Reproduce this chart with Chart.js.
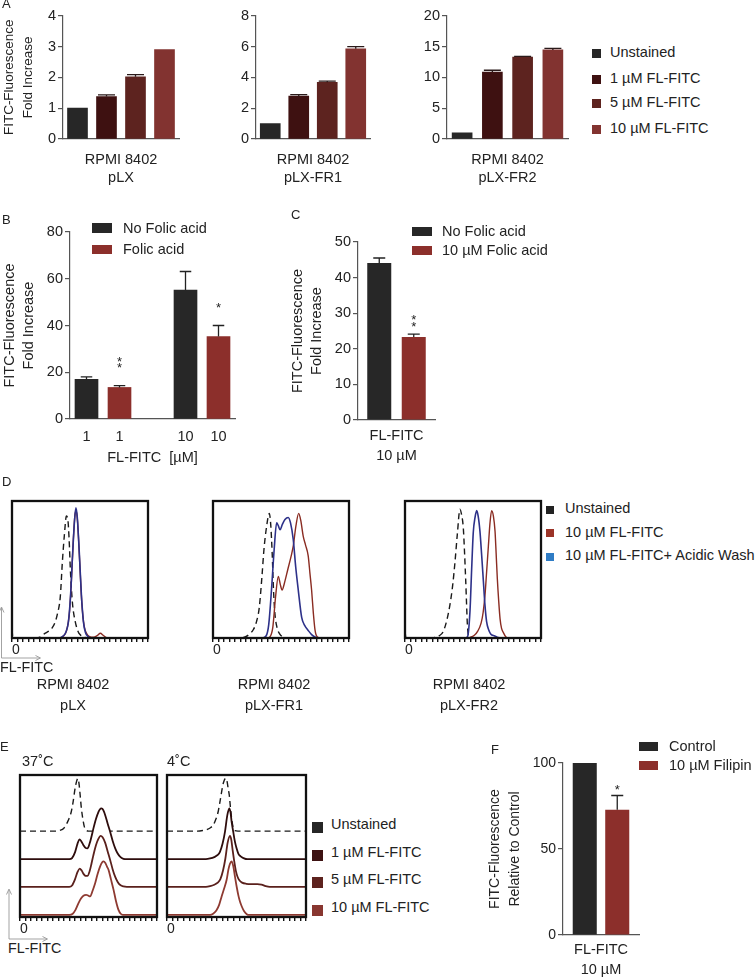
<!DOCTYPE html>
<html><head><meta charset="utf-8">
<script src="https://cdn.jsdelivr.net/npm/chart.js"></script>
<style>
html,body{margin:0;padding:0;background:#fff;}
#fig{position:relative;width:756px;height:978px;overflow:hidden;font-family:Arial,"Liberation Sans",Helvetica,sans-serif;color:#222;}
#fig canvas{position:absolute;}
.t{position:absolute;white-space:nowrap;}
.sw{position:absolute;}
</style></head><body><div id="fig">
<svg style="position:absolute;left:0;top:0" width="756" height="978">
 <g stroke="#999" stroke-width="0.9" fill="none">
  <path d="M1.5,658 V608 M-1,612.5 L1.5,607 L4,612.5 M1.5,658 H40 M35.5,655.5 L40.5,658 L35.5,660.5"/>
  <path d="M9,939 V890 M6.5,894.5 L9,889 L11.5,894.5 M9,939 H47 M42.5,936.5 L47.5,939 L42.5,941.5"/>
 </g>
</svg>
</div>
<script>
// ---------------- DATA ----------------
// Panel A
const conditionsA = ['Unstained', '1 µM FL-FITC', '5 µM FL-FITC', '10 µM FL-FITC'];
const foldA_pLX = [1.0, 1.38, 2.02, 2.9];
const errA_pLX  = [0, 0.05, 0.07, 0];
const foldA_FR1 = [1.0, 2.78, 3.68, 5.85];
const errA_FR1  = [0, 0.10, 0.08, 0.15];
const foldA_FR2 = [1.0, 10.85, 13.3, 14.45];
const errA_FR2  = [0, 0.30, 0.10, 0.25];
const cellA_pLX = ['RPMI 8402', 'pLX'];
const cellA_FR1 = ['RPMI 8402', 'pLX-FR1'];
const cellA_FR2 = ['RPMI 8402', 'pLX-FR2'];

// Panel B
const doseB = ['1', '1', '', '10', '10'];
const noFolicB    = [17.0, null, null, 55.2, null];
const noFolicErrB = [1.0, null, null, 7.9, null];
const folicB      = [null, 13.5, null, null, 35.3];
const folicErrB   = [null, 0.8, null, null, 4.7];
const sigB        = ['', '**', '', '', '*'];

// Panel C
const groupC = ['FL-FITC 10 µM'];
const noFolicC = [44.1];
const noFolicErrC = [1.4];
const folicC = [23.3];
const folicErrC = [0.8];
const sigC = ['**'];

// Panel F
const groupF = ['FL-FITC 10 µM'];
const controlF = [100];
const controlErrF = [0];
const filipinF = [72.8];
const filipinErrF = [8.3];
const sigF = ['*'];

// Panel D histograms: [channel (% of axis), count (% of box height)]
const dPLX_unstained = [[0,6],[0.7,0],[15,0],[20,0.5],[24.5,3.6],[27,5],[29.4,7.2],[31.5,11],[33.5,18],[35.5,30],[37,55],[38.5,75],[40,89],[41,87],[42,72],[43,48],[44.5,25],[46.5,12],[48.5,5],[50,2.5],[53,0.5],[56,0],[100,0]];
const dPLX_fitc = [[0,0],[35,0],[37.5,1],[40,5],[42,16],[43.5,38],[45,70],[46.3,90],[47.2,93],[48.2,85],[49.8,55],[51.3,26],[53,9],[55,3],[57,1],[60,0.5],[63,2],[65,3.5],[67,2],[69,0.5],[72,0],[100,0]];
const dPLX_wash = [[0,0],[34,0],[37,1],[39.5,4],[41.5,12],[43,30],[44.5,60],[46,86],[47,95],[48,88],[49.5,62],[51,32],[52.5,12],[54,4],[56,1],[58,0],[100,0]];

const dFR1_unstained = [[0,0],[20,0],[24,1],[27,3],[29.6,6],[32,12],[34,22],[36,45],[37.5,65],[39.5,82],[41.4,91],[42.5,82],[43.5,62],[44.5,35],[45.5,18],[47,8],[49,3],[52,0.5],[55,0],[100,0]];
const dFR1_fitc = [[0,0],[40,0],[42,1],[44,8],[46,30],[48,45],[49.5,39],[50.8,35],[52.5,40],[55,50],[57.5,60],[59,67],[61,82],[63,91],[64.5,86],[66.4,74],[68,68],[70,60],[71.3,47],[72.5,35],[73.8,18],[75,6],[76.5,1],[79,0],[100,0]];
const dFR1_wash = [[0,0],[36,0],[39,1.5],[41,10],[43,35],[45,65],[46.8,84],[48,82],[49.3,79],[51,83],[52.9,86.5],[55.3,88],[57,84],[59,72],[60.8,52],[62.7,35],[65.2,15],[67.5,9],[70,5.5],[72.5,2.5],[75,0.7],[78,0],[100,0]];

const dFR2_unstained = [[0,5],[0.7,0],[18,0],[22,0.5],[25,1.5],[28,4.5],[30.5,12],[33,24],[35,38],[36.8,56],[38.5,76],[40.4,94],[41.6,90],[42.9,80],[43.8,62],[44.6,43],[45.3,24],[45.8,11],[46.6,2],[48,0],[100,0]];
const dFR2_fitc = [[0,0],[45,0],[48,0.5],[51,2],[53.5,5],[56,11],[57.5,19],[58.8,31],[60,48],[61.3,67],[62.5,84],[63.7,93],[65,89],[66.2,78],[67,62],[67.9,43],[68.9,27],[69.9,14],[71,7],[72.3,4],[74,1],[76,0],[100,0]];
const dFR2_wash = [[0,0],[44,0],[46,1],[47.8,20],[49,50],[50.2,77],[51.5,88],[52.7,93],[53.8,89],[55.1,78],[56.4,60],[57.6,42],[58.8,24],[60,12],[61.5,6],[63,3],[66,1.5],[68.5,0.3],[71,0],[100,0]];

// Panel E histograms (heights relative to each trace's own baseline, % of box height)
const e37_unstained = [[0,0],[26,0],[29,0.5],[32,2],[35.3,7.7],[37,12],[38.5,19],[40.2,30],[41.3,35],[42.2,37],[43,34],[43.9,25.4],[44.8,16],[45.8,9],[47,3],[48.5,0.5],[50,0],[100,0]];
const e37_1uM = [[0,0],[36,0],[38,0.8],[40.2,5],[42,11],[43.4,13.9],[44.8,12.5],[46.3,9.9],[47.8,8],[49.2,7.6],[50.8,11],[52.2,16],[53.6,21.7],[55.5,28.5],[57.3,33.4],[58.4,35.2],[59.3,35.8],[60.2,35.4],[60.8,34.5],[62.2,31],[64,25],[65.8,19.3],[67.6,13],[69.5,7.6],[71.3,4],[73.2,1.6],[75.5,0.3],[78,0],[100,0]];
const e37_5uM = [[0,0],[36,0],[38,1],[40.2,5.5],[42,10.5],[43.6,12.9],[45,11.5],[46.5,9],[47.8,7.8],[49.2,7.7],[50.8,11],[52.2,16.5],[53.6,22.5],[55.5,29.5],[57.3,34],[58.8,36],[60.3,35],[62.2,31],[64,25],[65.8,19],[67.6,12.5],[69.5,7],[71.3,3.5],[73.2,1.3],[75.5,0.3],[78,0],[100,0]];
const e37_10uM = [[0,0],[36,0],[38.5,0.8],[40.5,3.5],[42.7,8.3],[44.5,11.5],[46.3,13.5],[48.3,14.1],[49.8,13.6],[51.2,13],[53,17],[54.9,22.4],[56.7,29],[58.5,34.2],[60,37],[61,37.7],[62.3,36.5],[63.5,34],[64.6,31.8],[66.4,25],[68.3,17.6],[70,10],[71.9,3.5],[73.5,0.8],[75,0],[100,0]];

const e4_unstained = [[0,0],[22,0],[26,0.5],[29,1.2],[31.5,2.5],[33.2,4.2],[35,8],[36.8,13.6],[38,20],[39.3,27.7],[40.6,34],[42.2,37.2],[43.2,35],[44,30],[44.8,25.4],[45.6,17],[46.5,8.9],[47.5,3],[48.9,0.3],[51,0],[100,0]];
const e4_1uM = [[0,0],[28,0],[31,0.5],[34,1.5],[36.5,3],[38.1,5.2],[40,11],[41.7,19.3],[43.4,31],[44.8,35.8],[45.7,33],[46.5,26.3],[47.7,19],[48.9,12.2],[50.1,7.5],[51.3,4],[53,2],[55,0.8],[58,0],[100,0]];
const e4_5uM = [[0,0],[28,0],[31,0.5],[34,1.5],[36.5,3],[38.4,5.5],[40.3,11.5],[42,20],[43.6,31],[45.3,36],[46.3,33],[47.2,26],[48.3,18.5],[49.5,11.5],[50.8,7],[52.2,4.5],[54,3],[57,2.2],[61,2],[65,2],[68,1.6],[71,0.5],[74,0],[100,0]];
const e4_10uM = [[0,0],[31,0],[33.2,0.8],[35.5,3],[37.5,7],[39.3,13],[41.1,18.5],[42.9,24.7],[44.2,32],[45.3,36],[46.5,37.7],[47.7,34.2],[48.9,27],[50.1,20],[51.5,13],[52.6,9],[53.8,5.9],[55.5,2.5],[57.4,0.5],[59,0],[100,0]];

// ---------------- STYLE ----------------
Chart.defaults.font.family = 'Arial, "Liberation Sans", Helvetica, sans-serif';
Chart.defaults.color = '#222';
const AX = '#555';
const DARK = '#272727';
const RED = '#8c2f2b';
const colorsA = ['#272727', '#3e1111', '#5d231f', '#823330'];
const fig = document.getElementById('fig');

function canvasAt(x, y, w, h) {
  const c = document.createElement('canvas');
  c.width = Math.round(w); c.height = Math.round(h);
  c.style.left = Math.round(x) + 'px'; c.style.top = Math.round(y) + 'px';
  c.style.width = c.width + 'px'; c.style.height = c.height + 'px';
  fig.appendChild(c);
  return c;
}
function text(s, x, yc, o) {
  o = o || {};
  const size = o.size || 14.5;
  const d = document.createElement('div');
  d.className = 't';
  d.style.fontSize = size + 'px';
  d.style.lineHeight = size + 'px';
  d.style.top = (yc - size / 2) + 'px';
  d.style.left = x + 'px';
  if (o.center) d.style.transform = 'translateX(-50%)';
  d.textContent = s;
  fig.appendChild(d);
}
function swatch(x, yc, w, h, color) {
  const d = document.createElement('div');
  d.className = 'sw';
  d.style.left = x + 'px'; d.style.top = (yc - h / 2) + 'px';
  d.style.width = w + 'px'; d.style.height = h + 'px';
  d.style.background = color;
  fig.appendChild(d);
}

const errPlugin = {
  id: 'errs',
  afterDatasetsDraw(chart, args, o) {
    const ctx = chart.ctx, ys = chart.scales.y;
    ctx.save();
    chart.data.datasets.forEach((ds, di) => {
      const meta = chart.getDatasetMeta(di);
      meta.data.forEach((bar, i) => {
        const v = ds.data[i];
        if (v === null || v === undefined) return;
        const e = (ds.errors && ds.errors[i]) || 0;
        const yTop = ys.getPixelForValue(v + e);
        if (e > 0) {
          const half = bar.width * o.cap / 2;
          ctx.strokeStyle = o.color; ctx.lineWidth = o.width;
          ctx.beginPath();
          ctx.moveTo(bar.x, bar.y); ctx.lineTo(bar.x, yTop);
          ctx.moveTo(bar.x - half, yTop); ctx.lineTo(bar.x + half, yTop);
          ctx.stroke();
        }
        const s = ds.stars && ds.stars[i];
        if (s) {
          ctx.fillStyle = '#222';
          ctx.font = o.starFont;
          ctx.textAlign = 'center';
          ctx.textBaseline = 'alphabetic';
          const m = ctx.measureText('*');
          const shift = (m.actualBoundingBoxAscent - m.actualBoundingBoxDescent) / 2;
          for (let k = 0; k < s.length; k++) {
            ctx.fillText('*', bar.x, yTop - o.starGap - k * o.starStep + shift);
          }
        }
      });
    });
    ctx.restore();
  }
};

function barChart(p) {
  const a = p.area;
  const pt = p.pt || 12, pr = p.pr || 4;
  const cv = canvasAt(a.l - p.yw, a.t - pt, a.r - a.l + p.yw + pr, a.b - a.t + pt + p.xh);
  const font = {size: p.tickSize || 14.5};
  new Chart(cv, {
    type: 'bar',
    data: {labels: p.labels, datasets: p.datasets},
    options: {
      responsive: false, animation: false, devicePixelRatio: 1,
      layout: {padding: {top: pt, right: pr, left: 0, bottom: 0}},
      plugins: {legend: {display: false}, tooltip: {enabled: false},
        errs: {cap: p.cap || 0.5, color: p.errColor || '#222', width: 1.3, starFont: '13px Arial, "Liberation Sans", sans-serif', starGap: p.starGap || 10, starStep: 6.5}},
      scales: {
        x: {
          grid: {display: false, drawTicks: false},
          border: {display: true, color: AX, width: 1.2},
          ticks: {display: !!p.showXTicks, autoSkip: false, maxRotation: 0, padding: p.xTickPad || 8, font: font, color: '#222'},
          title: {display: true, text: p.xTitle, padding: 0, color: '#222', font: {size: p.xTitleSize || 14.5, lineHeight: p.xTitleLH || '19px'}},
          afterFit(s) { s.height = p.xh; }
        },
        y: {
          min: p.yMin, max: p.yMax,
          ticks: {stepSize: p.yStep, padding: 2, font: font, color: '#222'},
          grid: {display: true, drawOnChartArea: false, drawTicks: true, tickLength: 5, color: AX, lineWidth: 1.2},
          border: {display: true, color: AX, width: 1.2},
          title: {display: !!p.yTitle, text: p.yTitle, padding: 0, color: '#222', font: {size: p.yTitleSize || 14.5, lineHeight: p.yTitleLH || '19px'}},
          afterFit(s) { s.width = p.yw; }
        }
      }
    },
    plugins: [errPlugin]
  });
}

// ---------------- PANEL A ----------------
function panelA(area, yw, values, errs, cell, yMax, yStep, yTitle) {
  barChart({
    area: area, yw: yw, xh: 48, pt: 10, pr: 4,
    labels: conditionsA,
    datasets: [{data: values, errors: errs, backgroundColor: colorsA, barThickness: 20}],
    yMin: 0, yMax: yMax, yStep: yStep,
    xTitle: cell, xTitleLH: '18px',
    yTitle: yTitle, yTitleSize: 13.5, yTitleLH: '19px',
    cap: 0.85, errColor: '#2a1a1a'
  });
}
panelA({l: 63, t: 15, r: 179, b: 139}, 63, foldA_pLX, errA_pLX, cellA_pLX, 4, 1, ['FITC-Fluorescence', 'Fold Increase']);
panelA({l: 256, t: 15, r: 370, b: 139}, 40, foldA_FR1, errA_FR1, cellA_FR1, 8, 2, null);
panelA({l: 447, t: 15, r: 568, b: 139}, 40, foldA_FR2, errA_FR2, cellA_FR2, 20, 5, null);

// ---------------- PANEL B ----------------
barChart({
  area: {l: 70, t: 232, r: 235, b: 419}, yw: 70, xh: 48, pt: 14, pr: 6,
  labels: doseB, showXTicks: true, xTickPad: 9,
  datasets: [
    {label: 'No Folic acid', data: noFolicB, errors: noFolicErrB, backgroundColor: DARK, barThickness: 23, grouped: false},
    {label: 'Folic acid', data: folicB, errors: folicErrB, stars: sigB, backgroundColor: RED, barThickness: 23, grouped: false}
  ],
  yMin: 0, yMax: 80, yStep: 20,
  xTitle: 'FL-FITC  [µM]',
  yTitle: ['FITC-Fluorescence', 'Fold Increase'],
  starGap: 20
});

// ---------------- PANEL C ----------------
barChart({
  area: {l: 358, t: 242, r: 435, b: 420}, yw: 70, xh: 46, pt: 14, pr: 4,
  labels: groupC,
  datasets: [
    {label: 'No Folic acid', data: noFolicC, errors: noFolicErrC, backgroundColor: DARK, categoryPercentage: 0.896, barPercentage: 0.696},
    {label: '10 µM Folic acid', data: folicC, errors: folicErrC, stars: sigC, backgroundColor: RED, categoryPercentage: 0.896, barPercentage: 0.696}
  ],
  yMin: 0, yMax: 50, yStep: 10,
  xTitle: ['FL-FITC', '10 µM'], xTitleLH: '20px',
  yTitle: ['FITC-Fluorescence', 'Fold Increase'],
  starGap: 10
});

// ---------------- PANEL F ----------------
barChart({
  area: {l: 563, t: 763, r: 639, b: 935}, yw: 78, xh: 45, pt: 12, pr: 4, tickSize: 14,
  labels: groupF,
  datasets: [
    {label: 'Control', data: controlF, errors: controlErrF, backgroundColor: DARK, categoryPercentage: 0.855, barPercentage: 0.74},
    {label: '10 µM Filipin', data: filipinF, errors: filipinErrF, stars: sigF, backgroundColor: RED, categoryPercentage: 0.855, barPercentage: 0.74}
  ],
  yMin: 0, yMax: 100, yStep: 50,
  xTitle: ['FL-FITC', '10 µM'], xTitleLH: '20px', xTitleSize: 14.5,
  yTitle: ['FITC-Fluorescence', 'Relative to Control'], yTitleSize: 14, yTitleLH: '20px',
  starGap: 8
});

// ---------------- HISTOGRAMS (D, E) ----------------
const tickPos = [];
for (let v = 0; v <= 100; v += 4) tickPos.push(v);
const boxPlugin = {
  id: 'box',
  afterDraw(chart) {
    const {ctx, chartArea: a} = chart;
    ctx.save();
    ctx.strokeStyle = '#111'; ctx.lineWidth = 2.3;
    ctx.strokeRect(a.left, a.top, a.right - a.left, a.bottom - a.top);
    ctx.restore();
  }
};
function histChart(box, datasets, yScales) {
  const padL = 4, pt = 4, pr = 4, xh = 22;
  const cv = canvasAt(box.l - padL, box.t - pt, box.r - box.l + padL + pr, box.b - box.t + pt + xh);
  const scales = Object.assign({
    x: {
      type: 'linear', min: 0, max: 100,
      afterBuildTicks(s) { s.ticks = tickPos.map(v => ({value: v})); },
      ticks: {autoSkip: false, maxRotation: 0, align: 'start', padding: 0, font: {size: 14}, color: '#222',
              callback: v => (v === 0 ? '0' : '')},
      grid: {display: true, drawOnChartArea: false, drawTicks: true, tickLength: 4, color: '#111', lineWidth: 1.4},
      border: {display: false},
      afterFit(s) { s.height = xh; }
    }
  }, yScales);
  new Chart(cv, {
    type: 'line',
    data: {datasets: datasets},
    options: {
      responsive: false, animation: false, devicePixelRatio: 1,
      layout: {padding: {left: padL, top: pt, right: pr, bottom: 0}},
      plugins: {legend: {display: false}, tooltip: {enabled: false}},
      elements: {point: {radius: 0}, line: {cubicInterpolationMode: 'monotone'}},
      scales: scales
    },
    plugins: [boxPlugin]
  });
}
const dashStyle = {borderColor: '#1a1a1a', borderWidth: 1.4, borderDash: [6, 4], fill: false};
function dSets(uns, fitc, wash) {
  return [
    Object.assign({label: 'Unstained', data: uns, order: 3}, dashStyle),
    {label: '10 µM FL-FITC', data: fitc, borderColor: '#8a2c22', borderWidth: 1.4, fill: false, order: 2},
    {label: '10 µM FL-FITC+ Acidic Wash', data: wash, borderColor: '#2d3189', borderWidth: 1.6, fill: false, order: 1}
  ];
}
const yD = {y: {display: false, min: 0, max: 100}};
histChart({l: 12, t: 501, r: 148, b: 638}, dSets(dPLX_unstained, dPLX_fitc, dPLX_wash), yD);
histChart({l: 213, t: 501, r: 349, b: 638}, dSets(dFR1_unstained, dFR1_fitc, dFR1_wash), yD);
histChart({l: 405, t: 501, r: 541, b: 638}, dSets(dFR2_unstained, dFR2_fitc, dFR2_wash), yD);

// E: each trace on its own offset axis
const baselinesE = [60.5, 40.7, 21.2, 1.5];
const yE = {};
baselinesE.forEach((b, i) => { yE['y' + i] = {display: false, min: -b, max: 100 - b}; });
function eSets(uns, c1, c5, c10) {
  return [
    Object.assign({label: 'Unstained', data: uns, yAxisID: 'y0', order: 4}, dashStyle),
    {label: '1 µM FL-FITC', data: c1, yAxisID: 'y1', borderColor: '#2e0d0d', borderWidth: 1.8, fill: 'origin', backgroundColor: '#fff', order: 3},
    {label: '5 µM FL-FITC', data: c5, yAxisID: 'y2', borderColor: '#5a201c', borderWidth: 1.8, fill: 'origin', backgroundColor: '#fff', order: 2},
    {label: '10 µM FL-FITC', data: c10, yAxisID: 'y3', borderColor: '#8e3a31', borderWidth: 1.8, fill: 'origin', backgroundColor: '#fff', order: 1}
  ];
}
histChart({l: 20, t: 775, r: 157, b: 917}, eSets(e37_unstained, e37_1uM, e37_5uM, e37_10uM), yE);
histChart({l: 167, t: 775, r: 306, b: 917}, eSets(e4_unstained, e4_1uM, e4_5uM, e4_10uM), yE);

// ---------------- TEXT, LEGENDS ----------------
text('A', 2, 3, {size: 13});
text('B', 2, 219.5, {size: 13});
text('C', 291, 214.5, {size: 13});
text('D', 2, 481.5, {size: 13});
text('E', 0, 746.5, {size: 13});
text('F', 491, 749.5, {size: 13});

// Legend A
const legendAY = [52, 78, 102.5, 128];
conditionsA.forEach((c, i) => { swatch(592, legendAY[i] + 1, 9, 9, colorsA[i]); text(c, 610, legendAY[i]); });
// Legend B
swatch(92, 228, 20, 9.5, DARK); text('No Folic acid', 123, 228);
swatch(92, 249.5, 20, 9.5, RED); text('Folic acid', 123, 249.5);
// Legend C
swatch(412, 231, 20, 9, DARK); text('No Folic acid', 442, 231);
swatch(412, 250.5, 20, 9, RED); text('10 µM Folic acid', 442, 250.5);
// Legend D
const legendD = [['Unstained', '#222222', 508.5], ['10 µM FL-FITC', '#9b3327', 532], ['10 µM FL-FITC+ Acidic Wash', '#2f7cc5', 555.5]];
legendD.forEach(r => { swatch(546, r[2] + 1, 8, 8, r[1]); text(r[0], 565, r[2]); });
// D sub-labels
text('FL-FITC', 0, 667, {size: 14.3});
[[73, 'pLX'], [274, 'pLX-FR1'], [469, 'pLX-FR2']].forEach(l => { text('RPMI 8402', l[0], 684, {center: true}); text(l[1], l[0], 705, {center: true}); });
// E labels
text('37˚C', 22, 761.5);
text('4˚C', 167, 761.5);
text('FL-FITC', 8, 948, {size: 14.3});
const legendE = [['Unstained', '#262626', 824], ['1 µM FL-FITC', '#3d1212', 852], ['5 µM FL-FITC', '#5d221e', 879.5], ['10 µM FL-FITC', '#883630', 907]];
legendE.forEach(r => { swatch(312, r[2] + 3, 11, 11, r[1]); text(r[0], 331, r[2]); });
// Legend F
swatch(639, 746, 19, 9, DARK); text('Control', 669, 746);
swatch(639, 765, 19, 9, RED); text('10 µM Filipin', 669, 765);
</script>
</body></html>
